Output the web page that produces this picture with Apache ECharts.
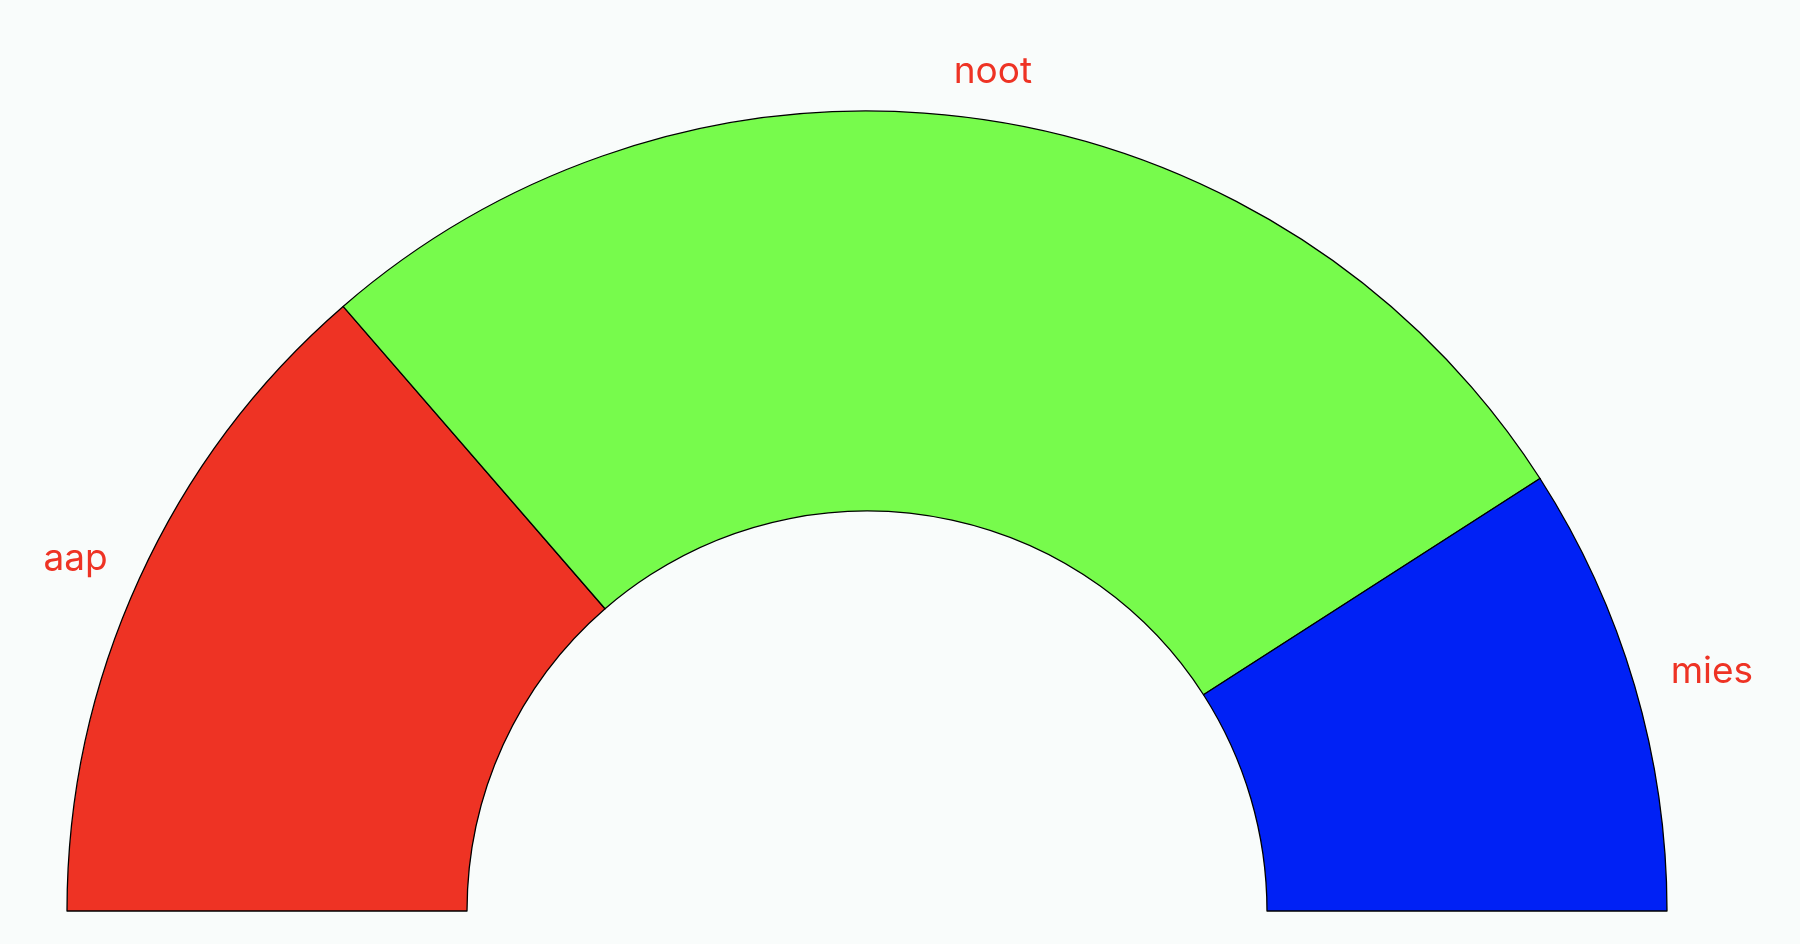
<!DOCTYPE html>
<html>
<head>
<meta charset="utf-8">
<style>
  html, body { margin: 0; padding: 0; background: #f9fcfb; }
  #chart { width: 1800px; height: 944px; }
</style>
<script src="https://cdn.jsdelivr.net/npm/echarts@6/dist/echarts.min.js"></script>
</head>
<body>
<div id="chart"></div>
<script>
const categories = ['aap', 'noot', 'mies'];
const values = [3, 6, 2];
const colors = ['#ee3324', '#77fb4c', '#0021f5'];

const chart = echarts.init(document.getElementById('chart'), null, { renderer: 'canvas' });

const data = categories.map((name, i) => ({
  name: name,
  value: values[i],
  itemStyle: { color: colors[i] },
  label: name === 'noot' ? { distanceToLabelLine: -34 } : (name === 'aap' ? { distanceToLabelLine: -12 } : {})
}));

chart.setOption({
  backgroundColor: '#f9fcfb',
  animation: false,
  series: [{
    type: 'pie',
    center: [867, 911],
    radius: [400, 800],
    startAngle: 180,
    endAngle: 360,
    avoidLabelOverlap: false,
    itemStyle: { borderColor: '#000', borderWidth: 1.3 },
    label: {
      show: true,
      position: 'outside',
      color: '#ee3324',
      fontFamily: 'Inter, "Noto Sans", sans-serif',
      fontSize: 37,
      distanceToLabelLine: -10
    },
    labelLine: { show: false, length: 48, length2: 0 },
    emphasis: { disabled: true },
    data: data
  }]
});
</script>
</body>
</html>
